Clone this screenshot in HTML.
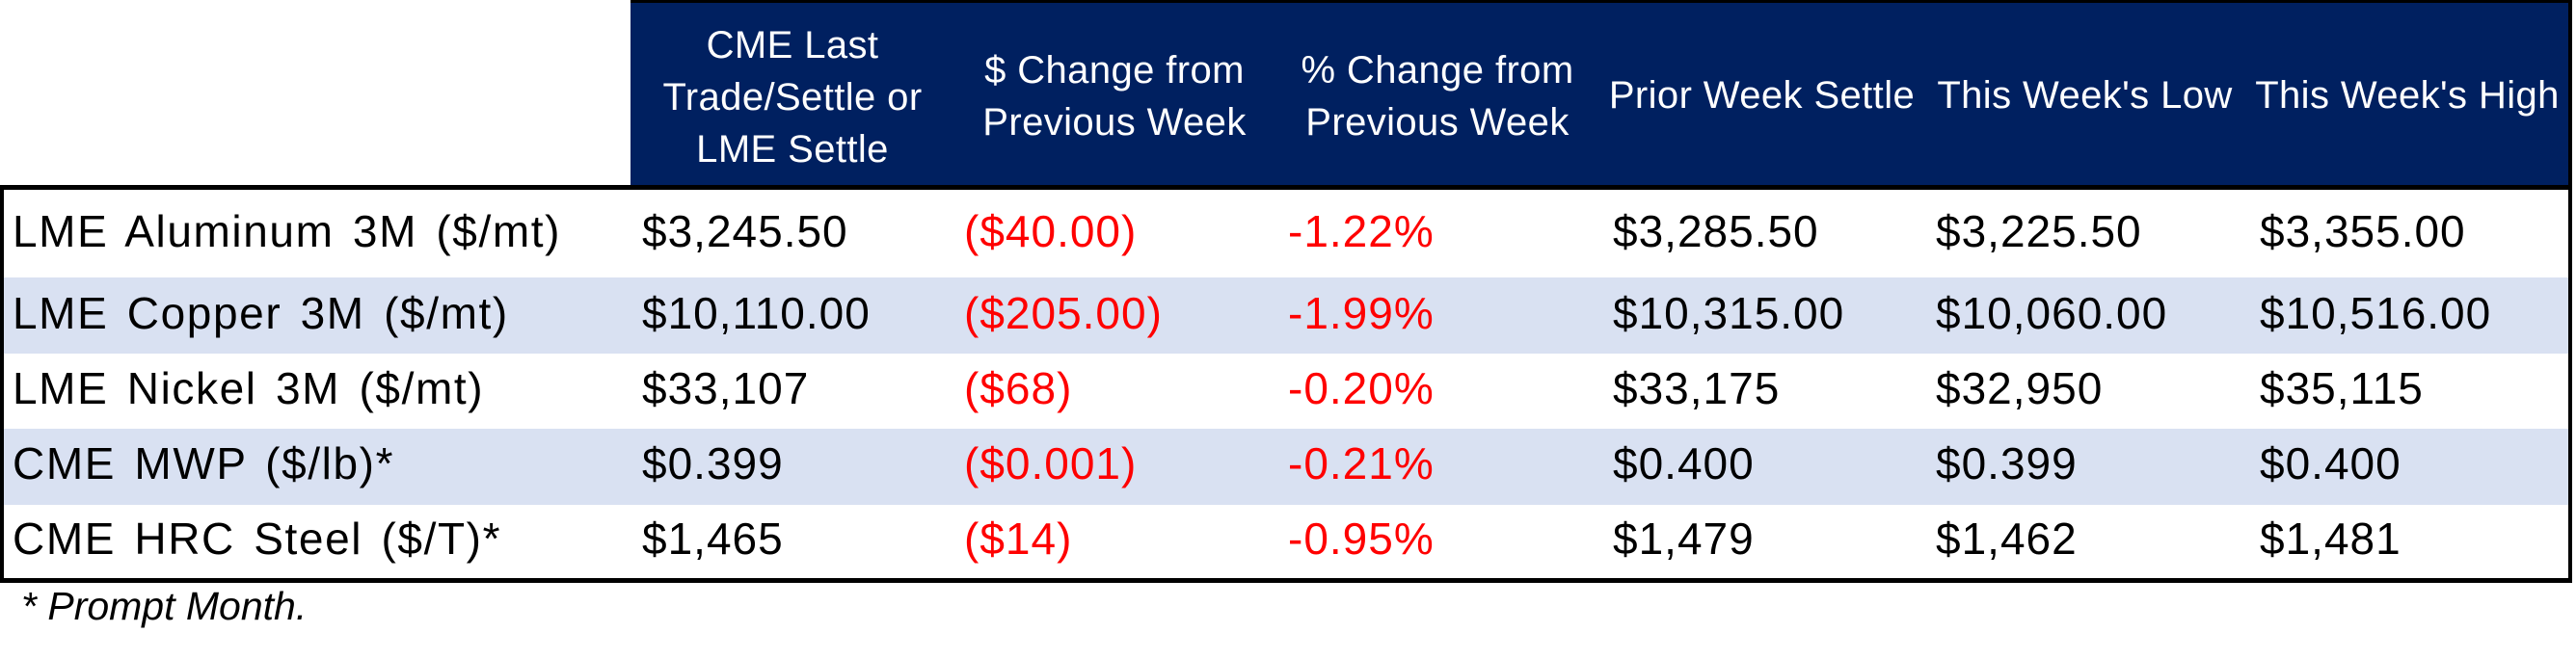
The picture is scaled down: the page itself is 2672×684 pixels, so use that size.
<!DOCTYPE html>
<html><head><meta charset="utf-8"><style>
html,body{margin:0;padding:0;background:#fff;}
body{width:2672px;height:684px;position:relative;overflow:hidden;font-family:"Liberation Sans",Arial,sans-serif;}
.a{position:absolute;white-space:nowrap;}
.hdr{position:absolute;left:654px;top:0;width:2014px;height:196px;background:#002060;border-top:3px solid #000;border-right:4px solid #000;box-sizing:border-box;}
.h{position:absolute;color:#fff;font-size:40px;line-height:54px;text-align:center;letter-spacing:0.4px;white-space:nowrap;}
.row{position:absolute;left:0;width:2668px;}
.t{position:absolute;font-size:46px;letter-spacing:1px;color:#000;white-space:nowrap;}
.l{letter-spacing:1.6px;word-spacing:5px;}
.r{color:#f00;}
</style></head><body>
<div class="hdr"></div>
<div class="h" style="left:654px;width:336px;top:20px;">CME Last<br>Trade/Settle or<br>LME Settle</div>
<div class="h" style="left:990px;width:332px;top:46px;">$ Change from<br>Previous Week</div>
<div class="h" style="left:1322px;width:338px;top:46px;">% Change from<br>Previous Week</div>
<div class="h" style="left:1660px;width:335px;top:72px;">Prior Week Settle</div>
<div class="h" style="left:1995px;width:335px;top:72px;">This Week's Low</div>
<div class="h" style="left:2330px;width:334px;top:72px;">This Week's High</div>

<div class="row" style="top:196px;height:92px;background:#fff;"></div>
<div class="row" style="top:288px;height:79px;background:#D9E1F2;"></div>
<div class="row" style="top:367px;height:78px;background:#fff;"></div>
<div class="row" style="top:445px;height:79px;background:#D9E1F2;"></div>
<div class="row" style="top:524px;height:76px;background:#fff;"></div>

<div class="a" style="left:0;top:192px;width:2668px;height:5px;background:#000;"></div>
<div class="a" style="left:0;top:192px;width:4px;height:413px;background:#000;"></div>
<div class="a" style="left:2664px;top:0;width:4px;height:605px;background:#000;"></div>
<div class="a" style="left:0;top:600px;width:2668px;height:5px;background:#000;"></div>

<div class="t l" style="left:13px;top:213px;">LME Aluminum 3M ($/mt)</div>
<div class="t" style="left:666px;top:213px;">$3,245.50</div>
<div class="t r" style="left:1000px;top:213px;">($40.00)</div>
<div class="t r" style="left:1336px;top:213px;">-1.22%</div>
<div class="t" style="left:1673px;top:213px;">$3,285.50</div>
<div class="t" style="left:2008px;top:213px;">$3,225.50</div>
<div class="t" style="left:2344px;top:213px;">$3,355.00</div>

<div class="t l" style="left:13px;top:298px;">LME Copper 3M ($/mt)</div>
<div class="t" style="left:666px;top:298px;">$10,110.00</div>
<div class="t r" style="left:1000px;top:298px;">($205.00)</div>
<div class="t r" style="left:1336px;top:298px;">-1.99%</div>
<div class="t" style="left:1673px;top:298px;">$10,315.00</div>
<div class="t" style="left:2008px;top:298px;">$10,060.00</div>
<div class="t" style="left:2344px;top:298px;">$10,516.00</div>

<div class="t l" style="left:13px;top:376px;">LME Nickel 3M ($/mt)</div>
<div class="t" style="left:666px;top:376px;">$33,107</div>
<div class="t r" style="left:1000px;top:376px;">($68)</div>
<div class="t r" style="left:1336px;top:376px;">-0.20%</div>
<div class="t" style="left:1673px;top:376px;">$33,175</div>
<div class="t" style="left:2008px;top:376px;">$32,950</div>
<div class="t" style="left:2344px;top:376px;">$35,115</div>

<div class="t l" style="left:13px;top:454px;">CME MWP ($/lb)*</div>
<div class="t" style="left:666px;top:454px;">$0.399</div>
<div class="t r" style="left:1000px;top:454px;">($0.001)</div>
<div class="t r" style="left:1336px;top:454px;">-0.21%</div>
<div class="t" style="left:1673px;top:454px;">$0.400</div>
<div class="t" style="left:2008px;top:454px;">$0.399</div>
<div class="t" style="left:2344px;top:454px;">$0.400</div>

<div class="t l" style="left:13px;top:532px;">CME HRC Steel ($/T)*</div>
<div class="t" style="left:666px;top:532px;">$1,465</div>
<div class="t r" style="left:1000px;top:532px;">($14)</div>
<div class="t r" style="left:1336px;top:532px;">-0.95%</div>
<div class="t" style="left:1673px;top:532px;">$1,479</div>
<div class="t" style="left:2008px;top:532px;">$1,462</div>
<div class="t" style="left:2344px;top:532px;">$1,481</div>

<div class="a" style="left:22px;top:606px;font-size:41px;font-style:italic;color:#000;">* Prompt Month.</div>
</body></html>
